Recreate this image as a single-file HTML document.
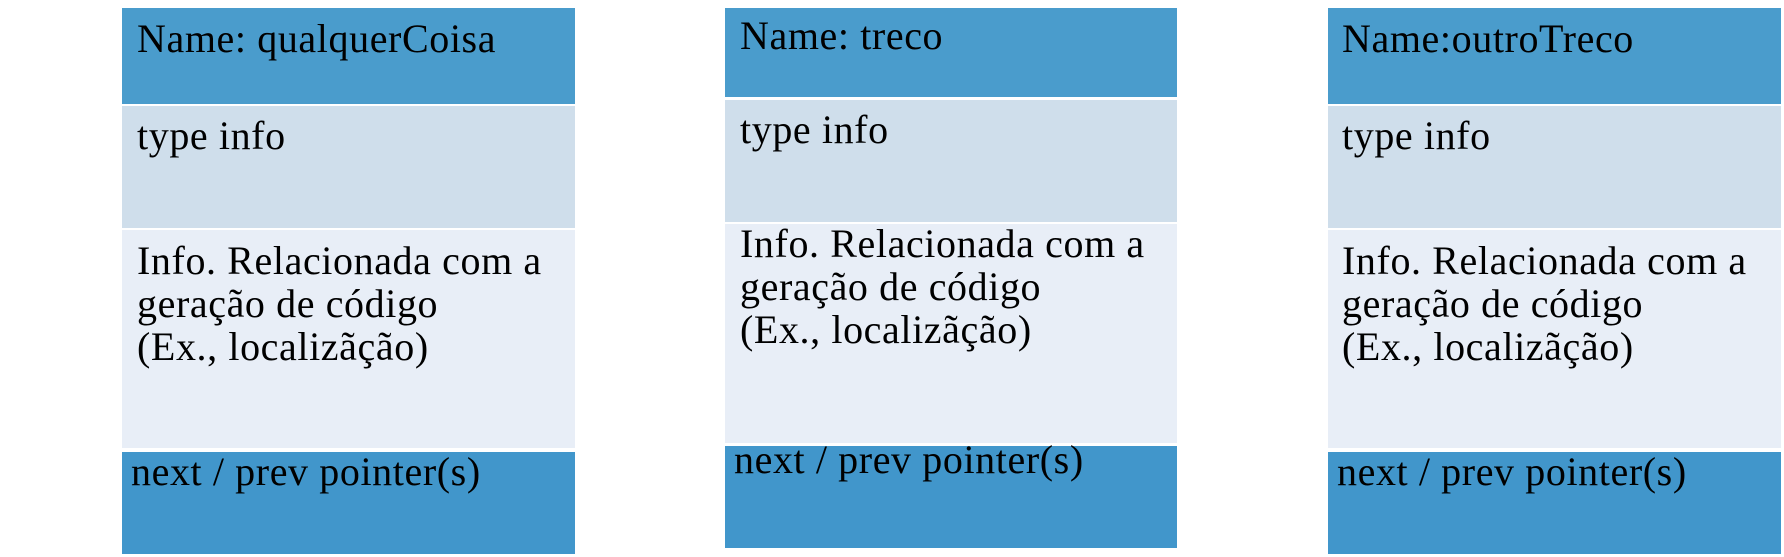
<!DOCTYPE html>
<html><head><meta charset="utf-8"><style>
body{margin:0;width:1784px;height:557px;background:#fff;position:relative;overflow:hidden;font-family:"Liberation Serif",serif;color:#000}
.r{position:absolute}
.t{position:absolute;font-size:40px;line-height:43px;white-space:nowrap;letter-spacing:0.6px}
.h{background:#4a9ccc}.ty{background:#cfdeeb}.in{background:#e8eef7}.nx{background:#4196cb}
</style></head><body>
<!-- box1 -->
<div class="r h" style="left:122px;top:8px;width:453px;height:96px"></div>
<div class="r ty" style="left:122px;top:106px;width:453px;height:122px"></div>
<div class="r in" style="left:122px;top:230px;width:453px;height:218px"></div>
<div class="r nx" style="left:122px;top:452px;width:453px;height:102px"></div>
<div class="t" style="left:137px;top:17px">Name: qualquerCoisa</div>
<div class="t" style="left:137px;top:114px">type info</div>
<div class="t" style="left:137px;top:239px">Info. Relacionada com a<br>geração de código<br>(Ex., localizãção)</div>
<div class="t" style="left:131px;top:450px">next / prev pointer(s)</div>
<!-- box2 -->
<div class="r h" style="left:725px;top:8px;width:452px;height:89px"></div>
<div class="r ty" style="left:725px;top:100px;width:452px;height:122px"></div>
<div class="r in" style="left:725px;top:224px;width:452px;height:219px"></div>
<div class="r nx" style="left:725px;top:446px;width:452px;height:102px"></div>
<div class="t" style="left:740px;top:14px">Name: treco</div>
<div class="t" style="left:740px;top:108px">type info</div>
<div class="t" style="left:740px;top:222px">Info. Relacionada com a<br>geração de código<br>(Ex., localizãção)</div>
<div class="t" style="left:734px;top:438px">next / prev pointer(s)</div>
<!-- box3 -->
<div class="r h" style="left:1328px;top:8px;width:453px;height:96px"></div>
<div class="r ty" style="left:1328px;top:106px;width:453px;height:122px"></div>
<div class="r in" style="left:1328px;top:230px;width:453px;height:218px"></div>
<div class="r nx" style="left:1328px;top:452px;width:453px;height:102px"></div>
<div class="t" style="left:1342px;top:17px">Name:outroTreco</div>
<div class="t" style="left:1342px;top:114px">type info</div>
<div class="t" style="left:1342px;top:239px">Info. Relacionada com a<br>geração de código<br>(Ex., localizãção)</div>
<div class="t" style="left:1337px;top:450px">next / prev pointer(s)</div>
</body></html>
